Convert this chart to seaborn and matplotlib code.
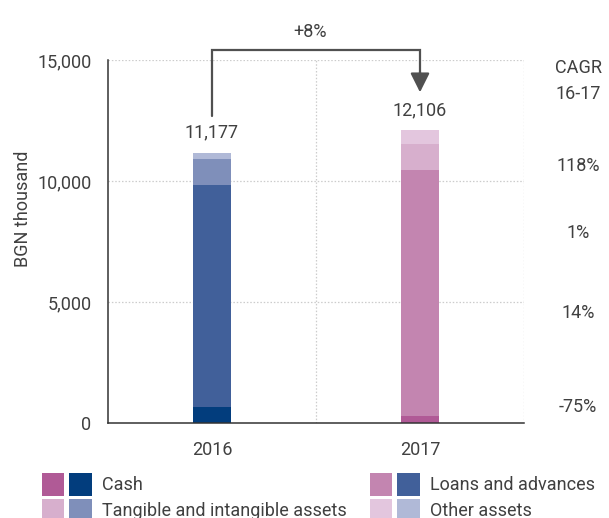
"""
Stacked bars: total assets 2016-2017, BGN thousand.
"""

import numpy as np
import pandas as pd
import seaborn as sns
import matplotlib.pyplot as plt
from matplotlib.patches import Rectangle

years = ["2016", "2017"]
components = ["Cash", "Loans and advances", "Tangible and intangible assets", "Other assets"]
cash = [670, 289]
loans = [9165, 10166]
tangible = [1074, 1074]
other = [268, 577]
totals_label = ["11,177", "12,106"]
growth_label = "+8%"
cagr_labels = ["118%", "1%", "14%", "-75%"]

blue_colors = ["#023d7d", "#41609a", "#7f8fba", "#b0b9d7"]
pink_colors = ["#b05a96", "#c385b0", "#d7afcd", "#e3c6de"]

TEXT = "#404040"
GRID = "#cccccc"
FS = 13

sns.set_style("white")
plt.rcParams["font.family"] = ["Roboto", "DejaVu Sans"]
plt.rcParams["font.size"] = FS

W, H = 609, 518
fig = plt.figure(figsize=(W / 100, H / 100), dpi=100)
ax = fig.add_axes([108 / W, 1 - 423 / H, 416 / W, 363 / H])

df = pd.DataFrame({"year": years, "Cash": cash, "Loans and advances": loans,
                   "Tangible and intangible assets": tangible, "Other assets": other})
cum = df[components].cumsum(axis=1)

# draw from the top layer down so each shorter bar covers the one below
for i in reversed(range(len(components))):
    sub = pd.DataFrame({"year": years, "value": cum[components[i]].values})
    sns.barplot(data=sub, x="year", y="value", hue="year",
                palette={years[0]: blue_colors[i], years[1]: pink_colors[i]},
                width=0.18, dodge=False, legend=False, ax=ax,
                edgecolor="none", linewidth=0, saturation=1)

totals = cum[components[-1]].values

ax.set_xlim(-0.5, 1.5)
ax.set_ylim(0, 15000)
ax.set_yticks([0, 5000, 10000, 15000])
ax.set_yticklabels(["0", "5,000", "10,000", "15,000"])
ax.set_xticks([-0.5, 0.5, 1.5], minor=True)
ax.tick_params(axis="x", which="major", length=0, pad=13, colors=TEXT, labelsize=FS)
ax.tick_params(axis="x", which="minor", length=5, width=1, color="#333333", direction="out")
ax.tick_params(axis="y", length=6, width=1, color="#333333", direction="out", pad=6,
               colors=TEXT, labelsize=FS)
ax.set_xlabel("")
ax.set_ylabel("BGN thousand", color=TEXT, fontsize=FS)
ax.yaxis.set_label_coords(-0.183, 0.59)

for y in [5000, 10000, 15000]:
    ax.axhline(y, color=GRID, lw=0.9, ls=(0, (1.2, 1.5)), zorder=0)
for x in [0.5, 1.5]:
    ax.axvline(x, color=GRID, lw=0.9, ls=(0, (1.2, 1.5)), zorder=0)

sns.despine(ax=ax, top=True, right=True)
for s in ["left", "bottom"]:
    ax.spines[s].set_color("#333333")
    ax.spines[s].set_linewidth(1.1)

for i, t in enumerate(totals):
    ax.annotate(totals_label[i], (i, t), xytext=(0, 8), textcoords="offset points",
                ha="center", va="bottom", color=TEXT, fontsize=FS)

# growth arrow
arrow_c = "#505050"
y_top = 15420
ax.plot([0, 0, 1, 1], [totals[0] + 1510, y_top, y_top, totals[1] + 2300],
        color=arrow_c, lw=1.6, clip_on=False, solid_joinstyle="miter")
ax.annotate("", xy=(1, totals[1] + 1560), xytext=(1, totals[1] + 2400),
            arrowprops=dict(arrowstyle="-|>,head_length=0.9,head_width=0.45",
                            color=arrow_c, lw=1.6, shrinkA=0, shrinkB=0),
            annotation_clip=False)
ax.text(0.47, 16150, growth_label, ha="center", va="center", color=TEXT,
        fontsize=FS, clip_on=False)

# CAGR column
fig.text(578 / W, 1 - 68 / H, "CAGR", ha="center", va="center", color=TEXT, fontsize=FS)
fig.text(578 / W, 1 - 94 / H, "16-17", ha="center", va="center", color=TEXT, fontsize=FS)
for lab, ypx in zip(cagr_labels, [166, 233, 313, 407]):
    fig.text(578 / W, 1 - ypx / H, lab, ha="center", va="center", color=TEXT, fontsize=FS)

# legend with paired swatches
legend_pos = [(42, 473), (370, 473), (42, 499), (370, 499)]
for k, (xp, yp) in enumerate(legend_pos):
    fig.patches.append(Rectangle((xp / W, 1 - (yp + 23) / H), 22 / W, 23 / H,
                                 transform=fig.transFigure, color=pink_colors[k], lw=0))
    fig.patches.append(Rectangle(((xp + 27) / W, 1 - (yp + 23) / H), 23 / W, 23 / H,
                                 transform=fig.transFigure, color=blue_colors[k], lw=0))
    fig.text((xp + 60) / W, 1 - (yp + 12) / H, components[k], ha="left", va="center",
             color=TEXT, fontsize=FS)

fig.savefig("out.png", dpi=100)
